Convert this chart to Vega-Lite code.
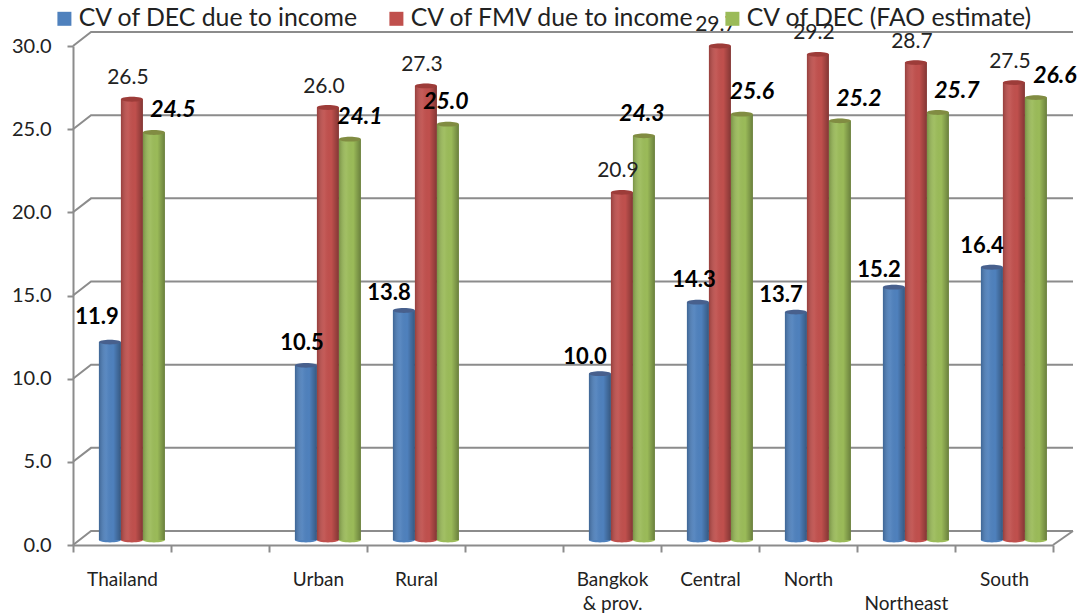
{"$schema":"https://vega.github.io/schema/vega-lite/v6.json","width":1000,"height":499,"autosize":{"type":"none"},"padding":{"left":73,"top":46,"right":5,"bottom":71},"background":"white","config":{"view":{"stroke":null},"font":"Lato"},
"datasets":{"cv":[
{"region":"Thailand","series":"CV of DEC due to income","cv":11.9},{"region":"Thailand","series":"CV of FMV due to income","cv":26.5},{"region":"Thailand","series":"CV of DEC (FAO estimate)","cv":24.5},
{"region":"Urban","series":"CV of DEC due to income","cv":10.5},{"region":"Urban","series":"CV of FMV due to income","cv":26.0},{"region":"Urban","series":"CV of DEC (FAO estimate)","cv":24.1},
{"region":"Rural","series":"CV of DEC due to income","cv":13.8},{"region":"Rural","series":"CV of FMV due to income","cv":27.3},{"region":"Rural","series":"CV of DEC (FAO estimate)","cv":25.0},
{"region":"Bangkok & prov.","series":"CV of DEC due to income","cv":10.0},{"region":"Bangkok & prov.","series":"CV of FMV due to income","cv":20.9},{"region":"Bangkok & prov.","series":"CV of DEC (FAO estimate)","cv":24.3},
{"region":"Central","series":"CV of DEC due to income","cv":14.3},{"region":"Central","series":"CV of FMV due to income","cv":29.7},{"region":"Central","series":"CV of DEC (FAO estimate)","cv":25.6},
{"region":"North","series":"CV of DEC due to income","cv":13.7},{"region":"North","series":"CV of FMV due to income","cv":29.2},{"region":"North","series":"CV of DEC (FAO estimate)","cv":25.2},
{"region":"Northeast","series":"CV of DEC due to income","cv":15.2},{"region":"Northeast","series":"CV of FMV due to income","cv":28.7},{"region":"Northeast","series":"CV of DEC (FAO estimate)","cv":25.7},
{"region":"South","series":"CV of DEC due to income","cv":16.4},{"region":"South","series":"CV of FMV due to income","cv":27.5},{"region":"South","series":"CV of DEC (FAO estimate)","cv":26.6}],
"wall":[
{"l":"g0","p":0,"v":0},{"l":"g0","p":0.184,"v":0.84},{"l":"g0","p":10.204,"v":0.84},
{"l":"g5","p":0,"v":5},{"l":"g5","p":0.184,"v":5.84},{"l":"g5","p":10.204,"v":5.84},
{"l":"g10","p":0,"v":10},{"l":"g10","p":0.184,"v":10.84},{"l":"g10","p":10.204,"v":10.84},
{"l":"g15","p":0,"v":15},{"l":"g15","p":0.184,"v":15.84},{"l":"g15","p":10.204,"v":15.84},
{"l":"g20","p":0,"v":20},{"l":"g20","p":0.184,"v":20.84},{"l":"g20","p":10.204,"v":20.84},
{"l":"g25","p":0,"v":25},{"l":"g25","p":0.184,"v":25.84},{"l":"g25","p":10.204,"v":25.84},
{"l":"g30","p":0,"v":30},{"l":"g30","p":0.184,"v":30.84},{"l":"g30","p":10.204,"v":30.84},
{"l":"edge","p":10,"v":0},{"l":"edge","p":10.204,"v":0.84}]},
"encoding":{},
"layer":[
{"data":{"name":"wall"},"mark":{"type":"line","color":"#8c8c8c","strokeWidth":2},"encoding":{"x":{"field":"p","type":"quantitative","scale":{"domain":[0,10.204]},"axis":null},"y":{"field":"v","type":"quantitative","scale":{"domain":[0,30]},"axis":{"title":null,"values":[0,5,10,15,20,25,30],"format":".1f","grid":false,"tickSize":6,"tickColor":"#8c8c8c","tickWidth":2,"domainColor":"#8c8c8c","domainWidth":2,"labelFontSize":20,"labelColor":"#222","labelPadding":16}},"detail":{"field":"l"}}},
{"data":{"name":"cv"},
"encoding":{
"x":{"field":"region","type":"nominal","sort":null,"scale":{"domain":["Thailand","gap1","Urban","Rural","gap2","Bangkok & prov.","Central","North","Northeast","South"],"range":[0,980],"paddingInner":0,"paddingOuter":0},
"axis":{"title":null,"tickBand":"extent","tickSize":7,"tickColor":"#8c8c8c","tickWidth":2,"domainColor":"#8c8c8c","domainWidth":2,"labelAngle":0,"labelFontSize":19,"labelColor":"#222","labelPadding":18,"labelLineHeight":24,"labelBaseline":"top","labelLimit":200,"labelExpr":"datum.label=='Bangkok & prov.'?['Bangkok','& prov.']:datum.label=='Northeast'?[' ','Northeast']:(datum.label=='gap1'||datum.label=='gap2')?'':datum.label"}},
"xOffset":{"field":"series","type":"nominal","scale":{"domain":["CV of DEC due to income","CV of FMV due to income","CV of DEC (FAO estimate)"],"paddingInner":0,"paddingOuter":0.727,"align":0.81}},
"y":{"field":"cv","type":"quantitative","scale":{"domain":[0,30]},"axis":{"title":null,"values":[0,5,10,15,20,25,30],"format":".1f","grid":false,"tickSize":6,"tickColor":"#8c8c8c","tickWidth":2,"domainColor":"#8c8c8c","domainWidth":2,"labelFontSize":20,"labelColor":"#222","labelPadding":16}},
"color":{"field":"series","type":"nominal","scale":{"domain":["CV of DEC due to income","CV of FMV due to income","CV of DEC (FAO estimate)"],"range":["#4f81bd","#c0504d","#9bbb59"]},
"legend":{"title":null,"orient":"none","legendX":-21,"legendY":-40,"direction":"horizontal","columns":3,"symbolType":"square","symbolSize":196,"symbolOpacity":1,"labelFontSize":24.8,"labelOffset":2,"labelColor":"#222","labelLimit":400,"columnPadding":25,"symbolOffset":0}}},
"layer":[
{"mark":{"type":"point","filled":true,"opacity":1,"yOffset":-5,"size":484,"shape":"M-1,0A1,0.22 0 1,1 1,0A1,0.22 0 1,1 -1,0Z"},"encoding":{"y":{"datum":0}}},
{"mark":{"type":"bar","yOffset":-5,"y2Offset":-5}},
{"mark":{"type":"bar","yOffset":-5,"y2Offset":-5,"fill":{"gradient":"linear","x1":0,"x2":1,"y1":0,"y2":0,"stops":[{"offset":0,"color":"rgba(0,0,0,0.22)"},{"offset":0.35,"color":"rgba(255,255,255,0.06)"},{"offset":0.65,"color":"rgba(0,0,0,0)"},{"offset":1,"color":"rgba(0,0,0,0.32)"}]}},"encoding":{"color":{"value":null}}},
{"mark":{"type":"point","filled":true,"opacity":1,"yOffset":-5,"size":484,"shape":"M-1,0A1,0.22 0 1,1 1,0A1,0.22 0 1,1 -1,0Z"}},
{"mark":{"type":"point","filled":true,"opacity":0.25,"yOffset":-5,"size":484,"shape":"M-1,0A1,0.22 0 1,1 1,0A1,0.22 0 1,1 -1,0Z"},"encoding":{"color":{"value":"#300"}}},
{"transform":[{"filter":"datum.series=='CV of DEC due to income'&&datum.region=='Thailand'"}],"mark":{"type":"text","font":"Lato","fontWeight":"bold","fontSize":22,"dx":-13,"dy":-30},"encoding":{"text":{"field":"cv","type":"quantitative","format":".1f"},"color":{"value":"black"}}},
{"transform":[{"filter":"datum.series=='CV of DEC due to income'&&(datum.region=='Urban'||datum.region=='Central')"}],"mark":{"type":"text","font":"Lato","fontWeight":"bold","fontSize":22,"dx":-4,"dy":-27},"encoding":{"text":{"field":"cv","type":"quantitative","format":".1f"},"color":{"value":"black"}}},
{"transform":[{"filter":"datum.series=='CV of DEC due to income'&&(datum.region=='Rural'||datum.region=='North'||datum.region=='Northeast'||datum.region=='Bangkok & prov.')"}],"mark":{"type":"text","font":"Lato","fontWeight":"bold","fontSize":22,"dx":-15,"dy":-22},"encoding":{"text":{"field":"cv","type":"quantitative","format":".1f"},"color":{"value":"black"}}},
{"transform":[{"filter":"datum.series=='CV of DEC due to income'&&datum.region=='South'"}],"mark":{"type":"text","font":"Lato","fontWeight":"bold","fontSize":22,"dx":-10,"dy":-26},"encoding":{"text":{"field":"cv","type":"quantitative","format":".1f"},"color":{"value":"black"}}},
{"transform":[{"filter":"datum.series=='CV of FMV due to income'"}],"mark":{"type":"text","font":"Lato","fontSize":21,"dx":-4,"dy":-26},"encoding":{"text":{"field":"cv","type":"quantitative","format":".1f"},"color":{"value":"#222"}}},
{"transform":[{"filter":"datum.series=='CV of DEC (FAO estimate)'&&(datum.region=='Thailand'||datum.region=='North'||datum.region=='Northeast'||datum.region=='South')"}],"mark":{"type":"text","font":"Lato","fontWeight":"bold","fontStyle":"italic","fontSize":23,"dx":19,"dy":-27},"encoding":{"text":{"field":"cv","type":"quantitative","format":".1f"},"color":{"value":"black"}}},
{"transform":[{"filter":"datum.series=='CV of DEC (FAO estimate)'&&(datum.region=='Urban'||datum.region=='Central')"}],"mark":{"type":"text","font":"Lato","fontWeight":"bold","fontStyle":"italic","fontSize":23,"dx":10,"dy":-27},"encoding":{"text":{"field":"cv","type":"quantitative","format":".1f"},"color":{"value":"black"}}},
{"transform":[{"filter":"datum.series=='CV of DEC (FAO estimate)'&&(datum.region=='Rural'||datum.region=='Bangkok & prov.')"}],"mark":{"type":"text","font":"Lato","fontWeight":"bold","fontStyle":"italic","fontSize":23,"dx":-2,"dy":-27},"encoding":{"text":{"field":"cv","type":"quantitative","format":".1f"},"color":{"value":"black"}}}
]}
],
"resolve":{"scale":{"x":"independent"}}}
